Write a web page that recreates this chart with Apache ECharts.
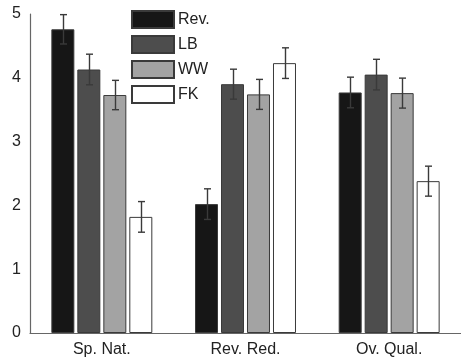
<!DOCTYPE html>
<html>
<head>
<meta charset="utf-8">
<script src="https://cdn.jsdelivr.net/npm/echarts@6/dist/echarts.min.js"></script>
<style>
  html, body { margin: 0; padding: 0; background: #fff; }
  #chart { width: 461px; height: 359px; }
</style>
</head>
<body>
<div id="chart"></div>
<script>
// Mean ratings per criterion with standard-error whiskers
const categories = ['Sp. Nat.', 'Rev. Red.', 'Ov. Qual.'];
const seriesNames = ['Rev.', 'LB', 'WW', 'FK'];
const revValues = [4.76, 2.02, 3.77];
const lbValues  = [4.13, 3.90, 4.05];
const wwValues  = [3.73, 3.74, 3.76];
const fkValues  = [1.82, 4.23, 2.38];
const revErrors = [0.23, 0.24, 0.24];
const lbErrors  = [0.24, 0.235, 0.24];
const wwErrors  = [0.23, 0.235, 0.235];
const fkErrors  = [0.24, 0.24, 0.235];
const yTicks = [0, 1, 2, 3, 4, 5];

const values = [revValues, lbValues, wwValues, fkValues];
const errors = [revErrors, lbErrors, wwErrors, fkErrors];
const fills = ['#161616', '#4d4d4d', '#a3a3a3', '#ffffff'];

const BAR_W = 23;
const BAR_GAP = 3;
const FONT = '"Liberation Sans", Arial, sans-serif';

const chart = echarts.init(document.getElementById('chart'), null, { renderer: 'canvas' });

const barSeries = seriesNames.map((name, i) => ({
  name: name,
  type: 'bar',
  data: values[i],
  barWidth: BAR_W,
  barGap: (BAR_GAP / BAR_W * 100).toFixed(1) + '%',
  itemStyle: { color: fills[i], borderColor: '#3a3a3a', borderWidth: 1 },
  emphasis: { disabled: true },
  animation: false
}));

// Whisker records: [category index, series index, mean, error]
const whiskerData = [];
values.forEach((arr, s) => {
  arr.forEach((v, c) => whiskerData.push([c, s, v, errors[s][c]]));
});

const whiskers = {
  type: 'custom',
  name: 'err',
  data: whiskerData,
  encode: { x: 0, y: 2 },
  z: 5,
  animation: false,
  renderItem: function (params, api) {
    const c = api.value(0), s = api.value(1), v = api.value(2), e = api.value(3);
    const dx = (s - 1.5) * (BAR_W + BAR_GAP);
    const top = api.coord([c, v + e]);
    const bot = api.coord([c, v - e]);
    const x = Math.round(top[0] + dx) + 0.5;
    const cap = 3.5;
    const style = { stroke: '#3a3a3a', lineWidth: 1.4, fill: null };
    return {
      type: 'group',
      children: [
        { type: 'line', shape: { x1: x, y1: top[1], x2: x, y2: bot[1] }, style: style },
        { type: 'line', shape: { x1: x - cap, y1: top[1], x2: x + cap, y2: top[1] }, style: style },
        { type: 'line', shape: { x1: x - cap, y1: bot[1], x2: x + cap, y2: bot[1] }, style: style }
      ]
    };
  }
};

chart.setOption({
  backgroundColor: '#ffffff',
  animation: false,
  grid: { left: 30, right: -3, top: 14, bottom: 26, containLabel: false },
  legend: {
    data: seriesNames,
    orient: 'vertical',
    left: 131,
    top: 10,
    itemWidth: 42,
    itemHeight: 17,
    itemGap: 6,
    icon: 'rect',
    padding: 0,
    selectedMode: false,
    textStyle: { fontFamily: FONT, fontSize: 16, color: '#222', padding: [0, 0, 0, -1] }
  },
  xAxis: {
    type: 'category',
    data: categories,
    axisLine: { show: true, lineStyle: { color: '#666', width: 1.2 } },
    axisTick: { show: false },
    axisLabel: { fontFamily: FONT, fontSize: 16, color: '#222', margin: 9 },
    splitLine: { show: false }
  },
  yAxis: {
    type: 'value',
    min: yTicks[0],
    max: yTicks[yTicks.length - 1],
    interval: 1,
    axisLine: { show: true, lineStyle: { color: '#666', width: 1.2 } },
    axisTick: { show: false },
    splitLine: { show: false },
    axisLabel: { fontFamily: FONT, fontSize: 16, color: '#222', margin: 9 }
  },
  series: barSeries.concat([whiskers])
});
</script>
</body>
</html>
